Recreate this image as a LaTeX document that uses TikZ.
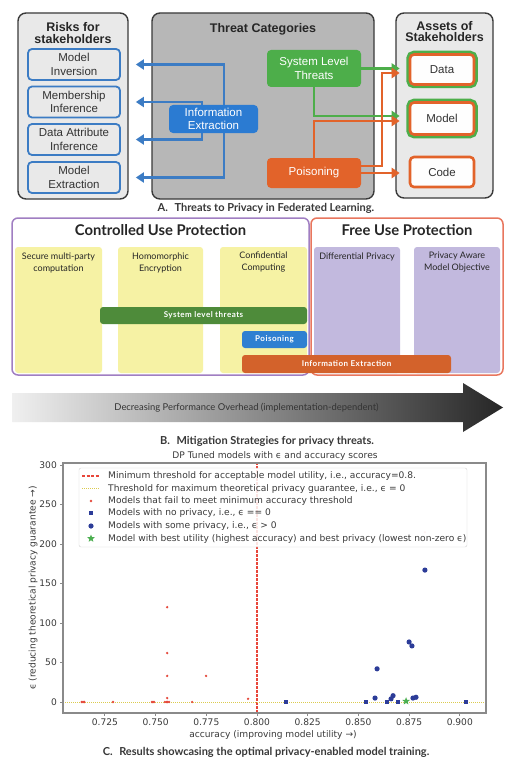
\documentclass[tikz,border=0pt]{standalone}
\usepackage{fontspec}
\setmainfont{Liberation Sans}
\newfontfamily\bfont{Lato}
\newfontfamily\barfont[LetterSpace=6]{Lato}
\newfontfamily\pfont{DejaVu Sans}
\usetikzlibrary{arrows.meta,shapes.geometric}

\definecolor{panelL}{HTML}{E9E9E9}
\definecolor{panelM}{HTML}{B7B7B7}
\definecolor{edge}{HTML}{3A3A3A}
\definecolor{rblue}{HTML}{3C7CC4}
\definecolor{iblue}{HTML}{2B7BD2}
\definecolor{tgreen}{HTML}{4DAE4A}
\definecolor{torange}{HTML}{E2632A}
\definecolor{cpurple}{HTML}{A07EC2}
\definecolor{fcoral}{HTML}{E8765E}
\definecolor{pyellow}{HTML}{F6F2A4}
\definecolor{plav}{HTML}{C2B9DE}
\definecolor{bgreen}{HTML}{4E8B3A}
\definecolor{bblue}{HTML}{2F80D1}
\definecolor{borange}{HTML}{D3622B}
\definecolor{navyp}{HTML}{2C3C98}
\definecolor{starg}{HTML}{4CAF50}
\definecolor{axc}{HTML}{8A8A8A}
\definecolor{ptxt}{HTML}{3A3A3A}
\definecolor{thrred}{HTML}{E8463A}
\definecolor{thryel}{HTML}{DCCB4E}
\definecolor{failred}{HTML}{E5493C}

\begin{document}
\begin{tikzpicture}[x=1pt,y=-1pt,
  panel/.style={draw=edge, line width=1.4pt, rounded corners=8pt, inner sep=0pt},
  ttl/.style={font=\fontsize{12.5}{11.8}\selectfont\bfseries, text=black!85, align=center, inner sep=0pt},
  riskbox/.style={draw=rblue, line width=1.8pt, rounded corners=4pt, fill=panelL,
    minimum width=92pt, minimum height=31pt, inner sep=0pt, align=center,
    font=\fontsize{11.5}{13.5}\selectfont, text=black!80},
  threat/.style={rounded corners=4pt, inner sep=0pt, align=center, text=white,
    font=\fontsize{11.5}{13.5}\selectfont},
  asset/.style={draw=torange, line width=2.6pt, rounded corners=4pt, fill=white!95!panelL,
    minimum width=64pt, inner sep=0pt, font=\fontsize{11.5}{13.5}\selectfont, text=black!80},
  twoedge/.style={preaction={draw=tgreen, line width=7.5pt}},
  barrow/.style={draw=rblue, line width=2.4pt, -{Triangle[length=8pt,width=10pt]}},
  garrow/.style={draw=tgreen, line width=2.4pt, -{Triangle[length=8pt,width=10pt]}},
  oarrow/.style={draw=torange, line width=2.4pt, -{Triangle[length=8pt,width=10pt]}},
  column/.style={rounded corners=3pt, inner sep=0pt, minimum height=126pt},
  coltxt/.style={font=\bfont\fontsize{9}{12}\selectfont, text=black!85, align=center, inner sep=0pt},
  bar/.style={rounded corners=3pt, inner sep=0pt, text=white, font=\barfont\bfseries\fontsize{8}{9}\selectfont},
  captxt/.style={font=\bfont\bfseries\fontsize{11}{12}\selectfont, text=black!78, inner sep=0pt},
  ptext/.style={font=\pfont\fontsize{9.1}{10}\selectfont, text=ptxt, inner sep=0pt}
]
\useasboundingbox (0,0) rectangle (508,757);
\fill[white] (0,0) rectangle (508,757);

% ---------- A: threats, risks and assets ----------
\node[panel, fill=panelL, minimum width=110pt, minimum height=186pt] (riskpanel) at (73,106) {};
\node[panel, fill=panelM, minimum width=222pt, minimum height=186pt] (threatpanel) at (263,106) {};
\node[panel, fill=panelL, minimum width=97pt, minimum height=185pt] (assetpanel) at (444.5,105.5) {};

\node[ttl] (risktitle) at (73,33) {Risks for\\stakeholders};
\node[ttl] (threattitle) at (263,29) {Threat Categories};
\node[ttl] (assettitle) at (444.5,31.5) {Assets of\\Stakeholders};

\node[riskbox] (mi) at (74,64.5) {Model\\Inversion};
\node[riskbox] (mb) at (74,102) {Membership\\Inference};
\node[riskbox] (da) at (74,139.5) {Data Attribute\\Inference};
\node[riskbox] (mx) at (74,177.5) {Model\\Extraction};

\node[threat, fill=iblue, minimum width=89pt, minimum height=28pt] (ie) at (213.5,119) {Information\\Extraction};
\node[threat, fill=tgreen, minimum width=94pt, minimum height=37pt] (sys) at (314,68.5) {System Level\\Threats};
\node[threat, fill=torange, minimum width=94pt, minimum height=30pt] (poi) at (314,173) {Poisoning};

\node[asset, twoedge, minimum height=30pt] (data) at (442,69.5) {Data};
\node[asset, twoedge, minimum height=32pt] (model) at (442,118.5) {Model};
\node[asset, minimum height=30pt] (code) at (442,172) {Code};

% information extraction fans out to the four risks
\draw[barrow] ([xshift=55pt]ie.north west) |- ([xshift=15pt]mi.east);
\draw[barrow] ([xshift=33pt]ie.north west) |- ([xshift=15pt]mb.east);
\draw[barrow] ([xshift=33pt]ie.south west) |- ([xshift=15pt]da.east);
\draw[barrow] ([xshift=55pt]ie.south west) |- ([xshift=15pt]mx.east);

% entry points on the asset boxes
\coordinate (dataG) at ([xshift=-9pt]data.west);
\coordinate (dataO) at ([xshift=-9pt,yshift=-3.5pt]data.west);
\coordinate (modelG) at ([xshift=-9pt,yshift=2.5pt]model.west);
\coordinate (modelO) at ([xshift=-9pt,yshift=-2.5pt]model.west);
\coordinate (codeIn) at ([xshift=-9pt]code.west);

\draw[garrow] (sys.east) -- (sys.east -| dataG);
\draw[garrow] (sys.south) |- (modelG);
\draw[oarrow] (poi.north) |- (modelO);
\draw[oarrow] ([yshift=7pt]poi.east) -- ++(21,0) |- (dataO);
\draw[oarrow] (poi.east) -- (poi.east -| codeIn);

\node[captxt] (capA) at (266,208.5) {A.\hspace{0.6em}Threats to Privacy in Federated Learning.};

% ---------- B: mitigation strategies ----------
\node[draw=cpurple, line width=1.5pt, rounded corners=6pt, minimum width=297pt, minimum height=157pt, inner sep=0pt] (cup) at (160.5,296.5) {};
\node[draw=fcoral, line width=1.5pt, rounded corners=6pt, minimum width=192pt, minimum height=157pt, inner sep=0pt] (fup) at (407,296.5) {};
\node[font=\bfont\bfseries\fontsize{14.8}{16}\selectfont, text=black!85, inner sep=0pt] (cuptitle) at (160.5,230.5) {Controlled Use Protection};
\node[font=\bfont\bfseries\fontsize{14.8}{16}\selectfont, text=black!85, inner sep=0pt] (fuptitle) at (407,230.5) {Free Use Protection};

\node[column, fill=pyellow, minimum width=87pt] (smpc) at (58.5,310) {};
\node[column, fill=pyellow, minimum width=85pt] (he) at (160.5,310) {};
\node[column, fill=pyellow, minimum width=87pt] (cc) at (263.5,310) {};
\node[column, fill=plav, minimum width=86pt] (dp) at (357,310) {};
\node[column, fill=plav, minimum width=86pt] (pamo) at (457,310) {};

\node[coltxt] (smpct) at (58.5,262.5) {Secure multi-party\\computation};
\node[coltxt] (het) at (160.5,262.5) {Homomorphic\\Encryption};
\node[coltxt] (cct) at (263.5,262.5) {Confidential\\Computing};
\node[coltxt] (dpt) at (357,256.5) {Differential Privacy};
\node[coltxt] (pamot) at (457,262.5) {Privacy Aware\\Model Objective};

\node[bar, fill=bgreen, minimum width=207pt, minimum height=17pt] (slt) at (203.5,315.5) {System level threats};
\node[bar, fill=bblue, minimum width=65pt, minimum height=17pt] (pbar) at (274.5,339.5) {Poisoning};
\node[bar, fill=borange, minimum width=209pt, minimum height=18pt] (iebar) at (346.5,364) {Information Extraction};

% overhead arrow, light to dark
\shade[left color=black!6, right color=black!85]
  (12,393) -- (463,393) -- (463,383) -- (503,407.5) -- (463,432) -- (463,422) -- (12,422) -- cycle;
\node[font=\bfont\fontsize{9.4}{10}\selectfont, text=black!80, inner sep=0pt] (ovh) at (246.5,408) {Decreasing Performance Overhead (implementation-dependent)};

\node[captxt] (capB) at (267,441.5) {B.\hspace{0.6em}Mitigation Strategies for privacy threats.};

% ---------- C: results plot ----------
\node[ptext] (ptitle) at (275,455.5) {DP Tuned models with ϵ and accuracy scores};

\begin{scope}[shift={(-1365.4,702)}]
\begin{scope}[x=2028pt,y=0.79pt]
  % reference lines
  \draw[thrred, line width=1.1pt, dash pattern=on 2.5pt off 1.5pt] (0.8,-13.9) -- (0.8,302.5);
  \draw[thryel, line width=1pt, dash pattern=on 1pt off 1pt] (0.70434,0) -- (0.91292,0);
  % models below the accuracy threshold
  \foreach \a/\e in {0.7135/0,0.7142/0,0.7148/0,0.729/0,0.7482/0,0.7487/0,0.7493/0,
      0.7546/0,0.7553/0,0.756/0,0.7567/0,0.7557/5,0.7557/33,0.7557/62,0.7557/120,
      0.768/0,0.7749/33,0.7956/4}
    \fill[failred] (\a,\e) circle (1.3pt);
  \fill[failred, opacity=0.45] (0.8828,215) circle (1.2pt);
  % models without privacy
  \foreach \a in {0.8143,0.8537,0.8641,0.8695,0.903}
    \fill[navyp] (\a,0) ++(-2.3pt,-2.3pt) rectangle ++(4.6pt,4.6pt);
  % models with some privacy
  \foreach \a/\e in {0.8582/5,0.8592/42,0.8661/4,0.8671/8,0.875/76,0.8764/71,
      0.8769/5,0.8784/6,0.8828/167}
    \fill[navyp] (\a,\e) circle (2.6pt);
  \node[star, star points=5, star point ratio=2.3, fill=starg, minimum size=8pt, inner sep=0pt] (best) at (0.8735,1) {};
  % frame and ticks
  \draw[axc, line width=1.3pt] (0.70434,-13.9) rectangle (0.91292,302.5);
  \foreach \t [count=\i] in {0.725,0.750,0.775,0.800,0.825,0.850,0.875,0.900} {
    \draw[axc, line width=0.9pt] (\t,-13.9) -- ++(0,-3.5pt);
    \node[ptext, anchor=north] (xt\i) at ([yshift=-5.5pt]\t,-13.9) {\t};
  }
  \foreach \t [count=\i] in {0,50,100,150,200,250,300} {
    \draw[axc, line width=0.9pt] (0.70434,\t) -- ++(-3.5pt,0);
    \node[ptext, anchor=east] (yt\i) at ([xshift=-6pt]0.70434,\t) {\t};
  }
\end{scope}
\end{scope}

% legend
\node[draw=black!18, fill=white, fill opacity=0.85, rounded corners=2pt, minimum width=388pt, minimum height=79pt, inner sep=0pt] (leg) at (273,507.5) {};
\draw[thrred, line width=1.1pt, dash pattern=on 3pt off 1.5pt] (82,476) -- (100,476);
\draw[thryel, line width=1pt, dash pattern=on 1pt off 1pt] (82,488.5) -- (100,488.5);
\fill[failred] (91,501) circle (1.3pt);
\fill[navyp] (88.7,510.7) rectangle (93.3,515.3);
\fill[navyp] (91,526) circle (2.6pt);
\node[star, star points=5, star point ratio=2.3, fill=starg, minimum size=8pt, inner sep=0pt] (legstar) at (91,538.5) {};
\node[ptext, anchor=west] (l1) at (108,476) {Minimum threshold for acceptable model utility, i.e., accuracy=0.8.};
\node[ptext, anchor=west] (l2) at (108,488.5) {Threshold for maximum theoretical privacy guarantee, i.e., ϵ = 0};
\node[ptext, anchor=west] (l3) at (108,501) {Models that fail to meet minimum accuracy threshold};
\node[ptext, anchor=west] (l4) at (108,513) {Models with no privacy, i.e., ϵ == 0};
\node[ptext, anchor=west] (l5) at (108,526) {Models with some privacy, i.e., ϵ > 0};
\node[ptext, anchor=west] (l6) at (108,538.5) {Model with best utility (highest accuracy) and best privacy (lowest non-zero ϵ)};

\node[ptext, rotate=90] (ylab) at (33,588) {ϵ (reducing theoretical privacy guarantee →)};
\node[ptext] (xlab) at (273,734.5) {accuracy (improving model utility →)};

\node[captxt] (capC) at (266,752) {C.\hspace{0.6em}Results showcasing the optimal privacy-enabled model training.};
\end{tikzpicture}
\end{document}
